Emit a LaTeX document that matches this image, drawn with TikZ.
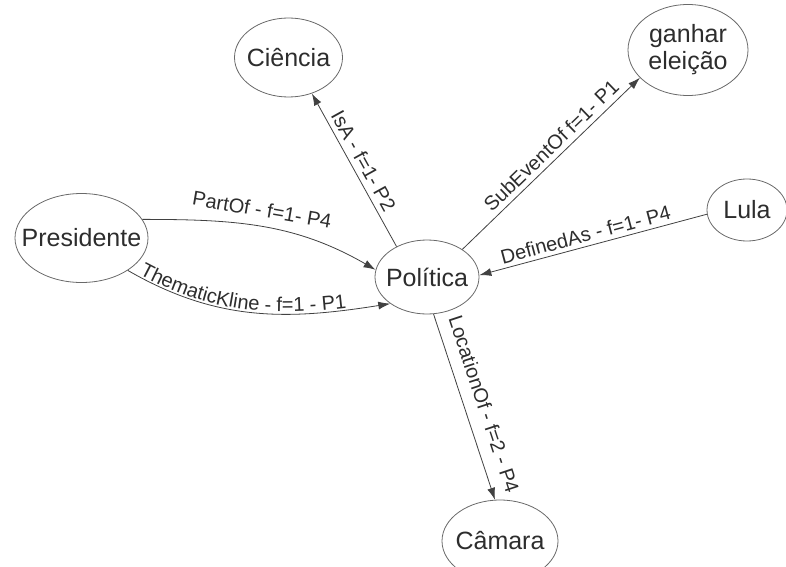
\documentclass[tikz,border=0pt]{standalone}
\usepackage{fontspec}
\setmainfont{Liberation Sans}
\usetikzlibrary{arrows.meta,shapes.geometric,decorations.text}
\definecolor{txt}{RGB}{45,45,45}
\definecolor{edgec}{RGB}{65,65,65}
\definecolor{ellc}{RGB}{105,105,105}
\newcommand{\nodefont}{\fontsize{25}{27}\selectfont}
\newcommand{\lblfont}{\fontsize{20}{24}\selectfont}
\begin{document}
\begin{tikzpicture}[x=1pt,y=1pt,
  concept/.style={ellipse, draw=ellc, line width=0.8pt, inner sep=0pt},
  ctext/.style={font=\nodefont, text=txt, inner sep=0pt, align=center},
  rel/.style={draw=edgec, line width=0.8pt, -{Latex[length=12pt,width=8pt]}},
  lbl/.style={font=\lblfont, text=txt, sloped, inner sep=1pt}]
\useasboundingbox (0,0) rectangle (786,566);
\node[concept, minimum width=108pt, minimum height=79pt, label={[ctext]center:Ciência}] (cie) at (288.5,508.5) {};
\node[concept, minimum width=120pt, minimum height=91pt, label={[ctext]center:{ganhar\\eleição}}] (gan) at (688,516) {};
\node[concept, minimum width=133pt, minimum height=89pt, label={[ctext]center:Presidente}] (pres) at (81.5,328) {};
\node[concept, minimum width=104pt, minimum height=74pt, label={[ctext]center:Política}] (pol) at (427,289) {};
\node[concept, minimum width=80pt, minimum height=62pt, label={[ctext]center:Lula}] (lula) at (747,356) {};
\node[concept, minimum width=116pt, minimum height=82pt, label={[ctext]center:Câmara}] (cam) at (500,25) {};

\draw[rel] (pol.135) -- node[lbl, above=4pt, pos=0.52] {IsA - f=1- P2} (cie.-57);
\draw[rel] (pol.38) -- node[lbl, above=4pt, pos=0.55] {SubEventOf f=1- P1} (gan.210);
\draw[rel] (lula.186) -- node[lbl, above=3pt, pos=0.52] {DefinedAs - f=1- P4} (pol.2);
\draw[rel] (pol.-80) -- node[lbl, above=11pt, pos=0.52] {LocationOf - f=2 - P4} (cam.97);
\draw[rel] (pres.17) to[out=0, in=150] node[lbl, above=8pt, pos=0.48] {PartOf - f=1- P4} (pol.172);
\draw[rel] (pres.-35) to[out=-30, in=189] (pol.216);
\path[decorate, decoration={text along path, text={|\lblfont\color{txt}|ThematicKline - f=1 - P1}, text align={align=left, left indent=12pt}, raise=2pt}] (pres.-35) to[out=-30, in=189] (pol.216);
\end{tikzpicture}
\end{document}
